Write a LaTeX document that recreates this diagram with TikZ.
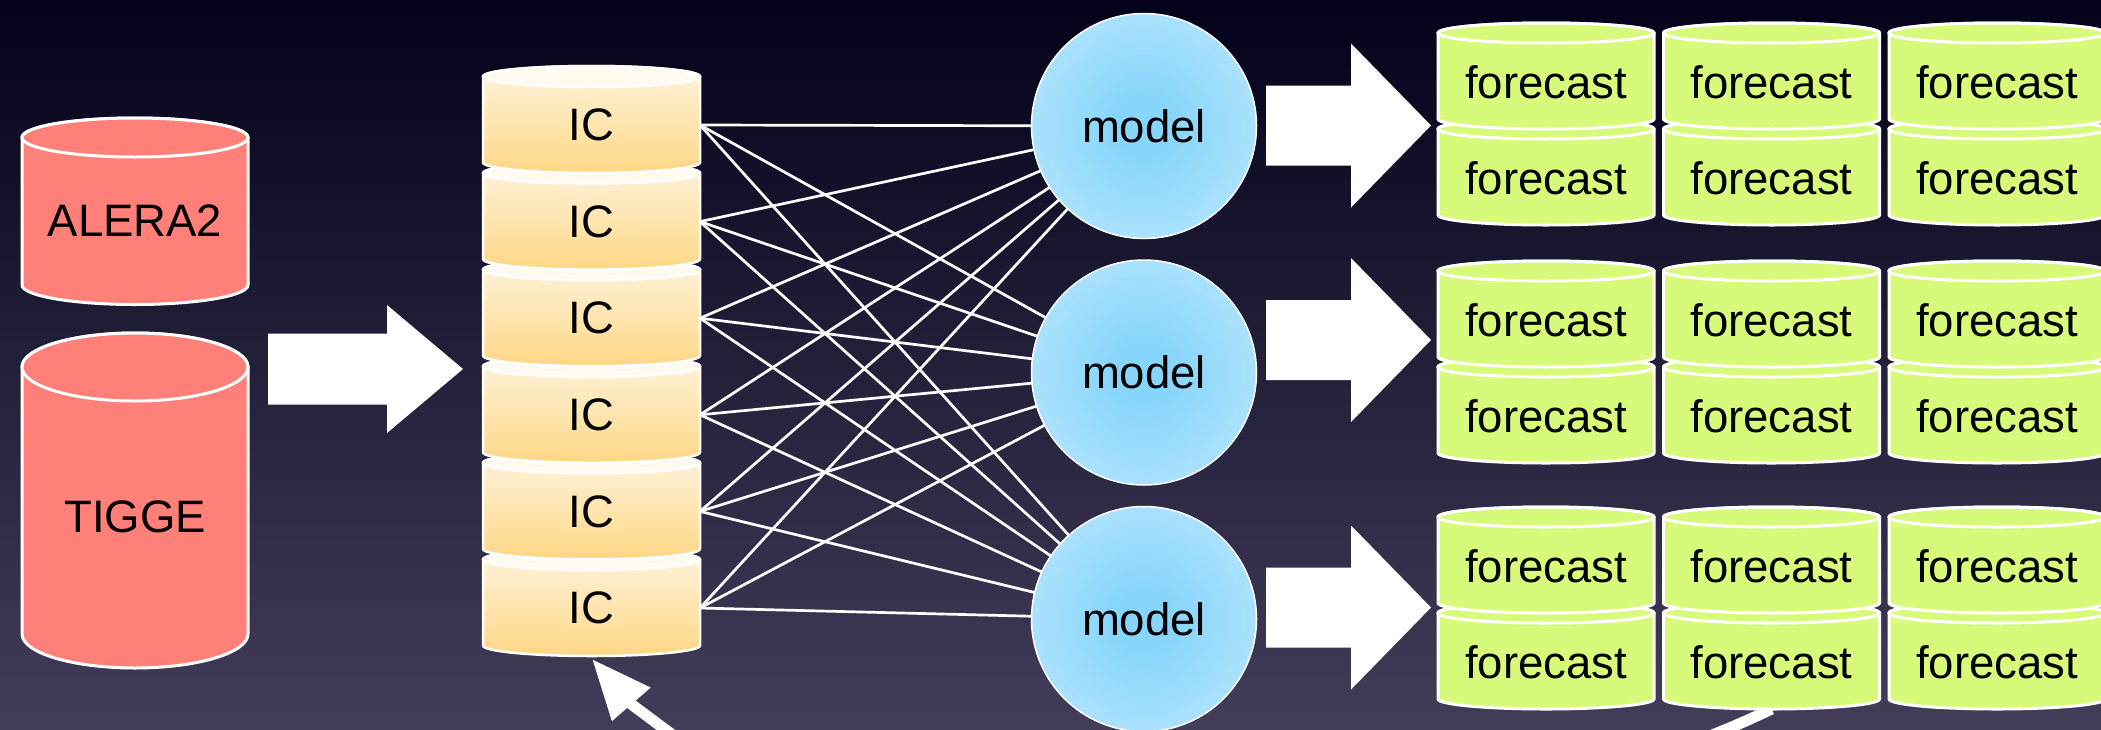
\documentclass[tikz,border=0pt]{standalone}
\usepackage{fontspec}
\setmainfont{Liberation Sans}
\usetikzlibrary{arrows.meta}

\pgfdeclarelayer{back}
\pgfsetlayers{back,main}

\definecolor{bgTop}{RGB}{3,2,26}
\definecolor{bgBottom}{RGB}{66,61,89}
\definecolor{srcFill}{RGB}{255,128,121}
\definecolor{icLid}{RGB}{255,250,240}
\definecolor{icUpper}{RGB}{255,244,222}
\definecolor{icLower}{RGB}{253,215,134}
\definecolor{modelCore}{RGB}{134,213,251}
\definecolor{modelRim}{RGB}{218,242,253}
\definecolor{fcFill}{RGB}{216,250,123}

\pgfdeclareradialshading{modelglow}{\pgfpoint{0bp}{0bp}}{%
  color(0bp)=(modelCore); color(6bp)=(modelCore); color(50bp)=(modelRim)}

\tikzset{
  lbl/.style={font=\fontsize{45.5}{55}\selectfont, text=black, inner sep=0pt, outer sep=0pt},
  srcbody/.style={draw=white, line width=3pt, fill=srcFill},
  srctop/.style={draw=white, line width=3pt, fill=srcFill},
  icbody/.style={draw=white, line width=2.5pt, top color=icUpper, bottom color=icLower},
  ictop/.style={draw=white, line width=2.5pt, fill=icLid},
  fcbody/.style={draw=white, line width=3pt, fill=fcFill},
  fctop/.style={draw=white, line width=3pt, fill=fcFill},
  model/.style={circle, minimum size=225pt, inner sep=0pt, outer sep=0pt,
    draw=white, line width=1.5pt, shade, shading=modelglow,
    font=\fontsize{45.5}{55}\selectfont, text=black},
  link/.style={draw=white, line width=2.7pt},
  backflow/.style={draw=white, line width=11pt, line join=round,
    -{Triangle[length=60pt,width=48pt]}},
}

% cylinder: centre x, lid centre y, base centre y, x radius, y radius, style prefix
\newcommand{\drum}[6]{%
  \path[#6body] ({#1-#4},#2) -- ({#1-#4},#3)
    arc[start angle=180,end angle=0,x radius=#4,y radius=#5]
    -- ({#1+#4},#2)
    arc[start angle=0,end angle=-180,x radius=#4,y radius=#5] -- cycle;
  \path[#6top] (#1,#2) ellipse[x radius=#4,y radius=#5];
}

% block arrow: tail-centre coordinate, shaft length, head length, shaft half width, head half width
\newcommand{\blockarrow}[5]{%
  \fill[white] (#1) ++(0,-#4) -- ++(#2,0) -- ++(0,{-(#5-#4)}) -- ++(#3,#5)
    -- ++(-#3,#5) -- ++(0,{-(#5-#4)}) -- ++(-#2,0) -- cycle;
}

\begin{document}
\begin{tikzpicture}[x=1pt,y=-1pt]
\useasboundingbox (0,0) rectangle (2101,729);
\begin{pgfonlayer}{back}
  \shade[top color=bgTop, bottom color=bgBottom] (0,0) rectangle (2101,729);
\end{pgfonlayer}

% data sources
\drum{135}{137.5}{285}{113}{19.5}{src}
\node[lbl] (alera) at (135,221) {ALERA2};
\drum{135}{367}{634}{113}{34}{src}
\node[lbl] (tigge) at (135,517) {TIGGE};

% stack of initial conditions
\foreach \k in {6,5,...,1}{
  \pgfmathsetmacro\yt{76.5+96.6*(\k-1)}
  \pgfmathsetmacro\yb{\yt+86}
  \drum{591.5}{\yt}{\yb}{108.5}{10.5}{ic}
  \node[lbl, minimum width=217pt] (ic\k) at (591.5,\yt+48.5) {IC};
}
\coordinate (icbase) at (592,659);

% models
\foreach \i/\y in {1/126,2/372.5,3/619}
  \node[model] (m\i) at (1144,\y) {model};

% forecast archives, two rows per model
\foreach \g/\top in {1/33,2/271,3/517}{
  \pgfmathtruncatemacro\ra{2*\g-1}
  \pgfmathtruncatemacro\rb{2*\g}
  \pgfmathsetmacro\ytb{\top+96}
  \pgfmathsetmacro\ybb{\top+182}
  \pgfmathsetmacro\yba{\top+86}
  \foreach \c/\x in {1/1546,2/1771.5,3/1997}{
    \drum{\x}{\ytb}{\ybb}{108}{10}{fc}
    \node[lbl, minimum width=216pt] (f-\rb-\c) at (\x,\top+145) {forecast};
    \drum{\x}{\top}{\yba}{108}{10}{fc}
    \node[lbl, minimum width=216pt] (f-\ra-\c) at (\x,\top+49) {forecast};
  }
}
\coordinate (fcbase) at (1771.5,709);

% every initial condition feeds every model
\foreach \k in {1,...,6}
  \foreach \i in {1,2,3}
    \draw[link] (ic\k.east) -- (m\i);

% feedback of forecasts into new initial conditions (loops below the frame)
\coordinate (under) at (670,733);
\coordinate (bend) at (631,704);
\begin{pgfonlayer}{back}
  \draw[backflow] (fcbase) .. controls (1421,879) and (826,849) .. (under)
    -- (bend) -- (icbase);
\end{pgfonlayer}

% block arrows
\coordinate (feed) at (268,369);
\blockarrow{feed}{119}{76}{35.5}{64}
\foreach \i/\y in {1/125.5,2/340,3/607.5}{
  \coordinate (out\i) at (1266,\y);
  \blockarrow{out\i}{85}{80}{40}{82}
}
\end{tikzpicture}
\end{document}
